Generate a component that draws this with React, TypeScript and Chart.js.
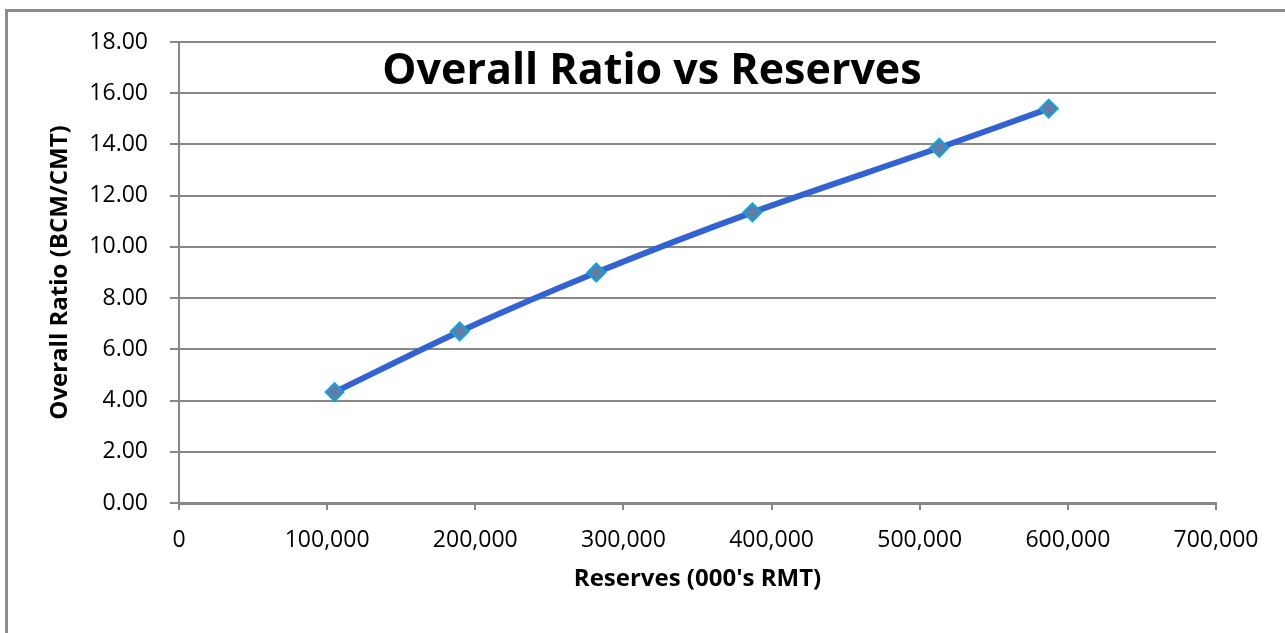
import React, { useEffect, useRef } from "react";
import { Chart, registerables } from "chart.js";

Chart.register(...registerables);

// Reserves (000's RMT) for each pit shell
const reserves = [105000, 189500, 281700, 387100, 513200, 587100];
// Overall strip ratio (BCM/CMT) for each pit shell
const overallRatio = [4.33, 6.7, 9.0, 11.35, 13.87, 15.4];

const chartTitle = "Overall Ratio vs Reserves";
const xAxisTitle = "Reserves (000's RMT)";
const yAxisTitle = "Overall Ratio (BCM/CMT)";

const xMin = 0;
const xMax = 700000;
const xStep = 100000;
const yMin = 0;
const yMax = 18;
const yStep = 2;

const FONT = "'Open Sans', 'Noto Sans', sans-serif";
const GRID = "#878787";

// Title drawn on top of the plot, centred in the chart box
const overlayTitle = {
  id: "overlayTitle",
  afterDraw(chart: Chart) {
    const ctx = chart.ctx;
    ctx.save();
    ctx.font = `bold 43px ${FONT}`;
    ctx.fillStyle = "#000";
    ctx.textAlign = "center";
    ctx.textBaseline = "alphabetic";
    ctx.fillText(chartTitle, 644, 72);
    ctx.restore();
  },
};

export default function App() {
  const canvasRef = useRef<HTMLCanvasElement | null>(null);

  useEffect(() => {
    if (!canvasRef.current) return;
    const points = reserves.map((x, i) => ({ x, y: overallRatio[i] }));
    const chart = new Chart(canvasRef.current, {
      type: "scatter",
      data: {
        datasets: [
          {
            data: points,
            showLine: true,
            tension: 0.3,
            borderColor: "#3363D2",
            borderWidth: 6,
            pointStyle: "rectRot",
            pointRadius: 9,
            pointBackgroundColor: "#617CA8",
            pointBorderColor: "#18A2D4",
            pointBorderWidth: 2,
          },
        ],
      },
      options: {
        animation: false,
        responsive: false,
        devicePixelRatio: 1,
        layout: { padding: { top: 30, right: 69, left: 0, bottom: 0 } },
        plugins: {
          legend: { display: false },
          title: { display: false },
          tooltip: { enabled: false },
        },
        scales: {
          x: {
            type: "linear",
            min: xMin,
            max: xMax,
            afterFit(scale: any) {
              scale.height = 130;
              scale.paddingLeft = 0;
              scale.paddingRight = 0;
            },
            ticks: {
              stepSize: xStep,
              padding: 17,
              color: "#000",
              font: { family: FONT, size: 23 },
              callback: (v: any) => Number(v).toLocaleString("en-US"),
            },
            grid: {
              drawOnChartArea: false,
              drawTicks: true,
              tickLength: 7,
              color: GRID,
              lineWidth: 2,
            },
            border: { display: true, color: GRID, width: 3 },
            title: {
              display: true,
              text: xAxisTitle,
              color: "#000",
              font: { family: FONT, size: 24, weight: "bold" },
              padding: { top: 0, bottom: 39 },
            },
          },
          y: {
            type: "linear",
            min: yMin,
            max: yMax,
            afterFit(scale: any) {
              scale.width = 171;
              scale.paddingTop = 0;
              scale.paddingBottom = 0;
            },
            ticks: {
              stepSize: yStep,
              padding: 22,
              color: "#000",
              font: { family: FONT, size: 23 },
              callback: (v: any) => Number(v).toFixed(2),
            },
            grid: {
              drawOnChartArea: true,
              drawTicks: true,
              tickLength: 9,
              color: GRID,
              lineWidth: 2,
            },
            border: { display: true, color: GRID, width: 2 },
            title: {
              display: true,
              text: yAxisTitle,
              color: "#000",
              font: { family: FONT, size: 24, weight: "bold" },
              padding: { top: 38, bottom: 0 },
            },
          },
        },
      },
      plugins: [overlayTitle],
    });
    return () => chart.destroy();
  }, []);

  return (
    <div
      style={{
        position: "fixed",
        left: 0,
        top: 0,
        width: 1285,
        height: 633,
        overflow: "hidden",
        background: "#fff",
      }}
    >
      <div
        style={{
          position: "absolute",
          left: 5,
          top: 9,
          width: 1400,
          height: 700,
          border: "3px solid #8c8c8c",
          boxSizing: "border-box",
        }}
      >
        <canvas
          ref={canvasRef}
          width={1277}
          height={621}
          style={{ position: "absolute", left: 0, top: 0, width: 1277, height: 621 }}
        />
      </div>
    </div>
  );
}
